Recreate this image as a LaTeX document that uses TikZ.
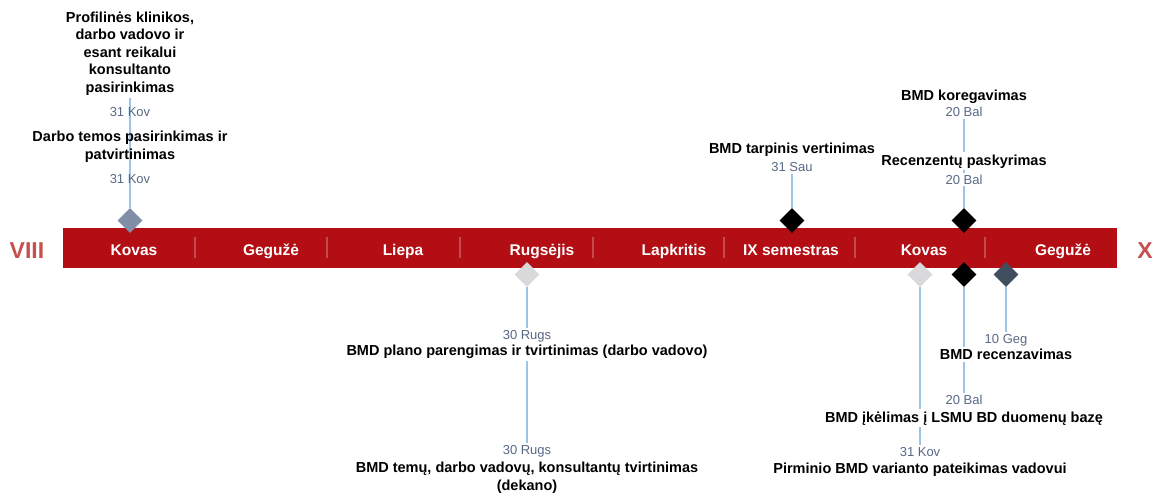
\documentclass[tikz,border=0pt]{standalone}
\usepackage{fontspec}
\setmainfont{Liberation Sans}
\usetikzlibrary{shapes.geometric,backgrounds}
\definecolor{barred}{RGB}{178,14,20}
\definecolor{semred}{RGB}{196,80,80}
\definecolor{stemblue}{RGB}{157,195,230}
\definecolor{datecol}{RGB}{88,104,132}
\definecolor{gemslate}{RGB}{128,142,168}
\definecolor{gemgrey}{RGB}{217,217,219}
\definecolor{gemdark}{RGB}{65,78,94}
\tikzset{
	monthlbl/.style={text=white,font=\bfseries\fontsize{15.5}{18}\selectfont,anchor=base},
	semlbl/.style={text=semred,font=\bfseries\fontsize{23}{26}\selectfont,anchor=base},
	evt/.style={font=\bfseries\fontsize{14.5}{17.5}\selectfont,align=center,anchor=base,inner sep=2pt},
	when/.style={text=datecol,font=\fontsize{13}{15}\selectfont,anchor=base,inner sep=2pt},
	cover/.style={fill=white},
	gem/.style={diamond,minimum width=25pt,minimum height=25pt,inner sep=0pt},
	stem/.style={stemblue,line width=1.2pt},
}
\begin{document}
\begin{tikzpicture}[x=1pt,y=-1pt]
	\useasboundingbox (0,0) rectangle (1158,500);
	% semester bar
	\fill[barred] (63,228) rectangle (1117,268);
	\foreach \sx in {195,327,460,593,724,855,985}
		\draw[white,opacity=0.25,line width=2pt] (\sx,237) -- (\sx,258);
	\node[semlbl] (viii) at (27,258) {VIII};
	\node[semlbl] (x) at (1145,258) {X};
	\node[monthlbl] (m1) at (134,255) {Kovas};
	\node[monthlbl] (m2) at (271,255) {Gegužė};
	\node[monthlbl] (m3) at (403,255) {Liepa};
	\node[monthlbl] (m4) at (542,255) {Rugsėjis};
	\node[monthlbl] (m5) at (674,255) {Lapkritis};
	\node[monthlbl] (m6) at (791,255) {IX semestras};
	\node[monthlbl] (m7) at (924,255) {Kovas};
	\node[monthlbl] (m8) at (1063,255) {Gegužė};
	% milestones
	\node[gem,fill=gemslate] (g1) at (130,220.5) {};
	\node[gem,fill=black] (g2) at (792,220.5) {};
	\node[gem,fill=black] (g3) at (964,220.5) {};
	\node[gem,fill=gemgrey] (g4) at (527,274.5) {};
	\node[gem,fill=gemgrey] (g5) at (920,274.5) {};
	\node[gem,fill=black] (g6) at (964,274.5) {};
	\node[gem,fill=gemdark] (g7) at (1006,274.5) {};
	% above the bar (base = last line)
	\node[evt] (t1) at (130,92.5) {Profilinės klinikos,\\darbo vadovo ir\\esant reikalui\\konsultanto\\pasirinkimas};
	\node[when] (d1) at (130,116.5) {31 Kov};
	\node[evt] (t2) at (130,159.5) {Darbo temos pasirinkimas ir\\patvirtinimas};
	\node[when] (d2) at (130,183) {31 Kov};
	\node[evt] (t3) at (792,153) {BMD tarpinis vertinimas};
	\node[when] (d3) at (792,171.5) {31 Sau};
	\node[evt] (t4) at (964,100.7) {BMD koregavimas};
	\node[when] (d4) at (964,117) {20 Bal};
	\node[evt,cover] (t5) at (964,165) {Recenzentų paskyrimas};
	\node[when,cover] (d5) at (964,184) {20 Bal};
	% below the bar
	\node[when,cover] (d6) at (527,339) {30 Rugs};
	\node[evt,cover] (t6) at (527,355.7) {BMD plano parengimas ir tvirtinimas (darbo vadovo)};
	\node[when] (d7) at (527,454) {30 Rugs};
	\node[evt] (t7) at (527,490) {BMD temų, darbo vadovų, konsultantų tvirtinimas\\(dekano)};
	\node[when] (d8) at (1006,343) {10 Geg};
	\node[evt,cover] (t8) at (1006,359.5) {BMD recenzavimas};
	\node[when] (d9) at (964,404.5) {20 Bal};
	\node[evt,cover] (t9) at (964,422) {BMD įkėlimas į LSMU BD duomenų bazę};
	\node[when] (d10) at (920,456.5) {31 Kov};
	\node[evt] (t10) at (920,473) {Pirminio BMD varianto pateikimas vadovui};
	\begin{pgfonlayer}{background}
		\draw[stem] (t1.south) -- (g1.north);
		\draw[stem] (d2.south) -- (g1.north);
		\draw[stem] (d3.south) -- (g2.north);
		\draw[stem] (d4.south) -- (g3.north);
		\draw[stem] (d5.south) -- (g3.north);
		\draw[stem] (g4.south) -- (d6.north);
		\draw[stem] (g4.south) -- (d7.north);
		\draw[stem] (g5.south) -- (d10.north);
		\draw[stem] (g6.south) -- (d9.north);
		\draw[stem] (g7.south) -- (d8.north);
	\end{pgfonlayer}
\end{tikzpicture}
\end{document}
